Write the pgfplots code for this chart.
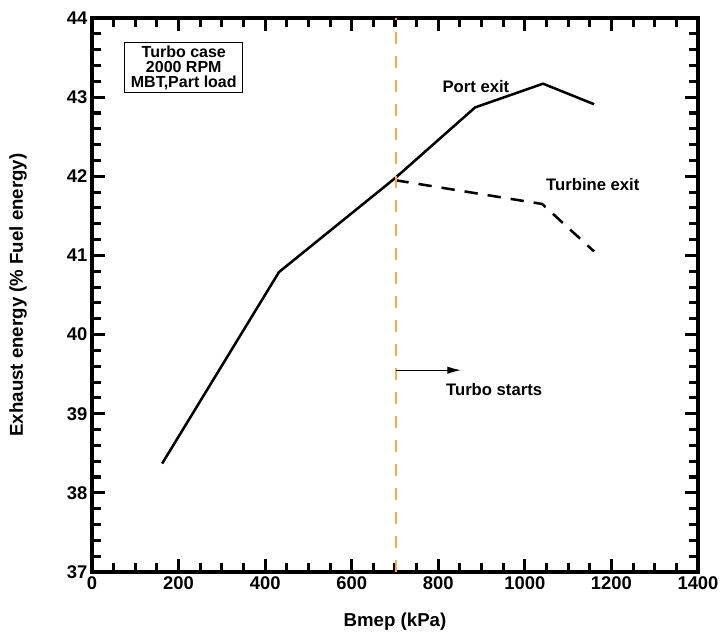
\documentclass[border=0pt]{standalone}
\usepackage{pgfplots}
\pgfplotsset{compat=1.18}
\usepackage{fontspec}
\setmainfont{Liberation Sans}
\usetikzlibrary{arrows.meta}
\definecolor{turbo}{RGB}{250,170,80}
\begin{document}
\begin{tikzpicture}
\useasboundingbox (-69pt,-47.25pt) rectangle (472.5pt,429pt);
\begin{axis}[
  scale only axis, width=454.5pt, height=415.5pt,
  at={(0,0)}, anchor=south west,
  xmin=0, xmax=1400, ymin=37, ymax=44,
  xtick={0,200,...,1400}, ytick={37,38,...,44},
  minor x tick num=3, minor y tick num=4,
  tick align=inside, tick pos=both,
  major tick length=10pt, minor tick length=7pt,
  every tick/.style={line width=2.3pt, black},
  axis line style={line width=2.6pt},
  /pgf/number format/assume math mode=true,
  /pgf/number format/1000 sep={},
  ticklabel style={font=\fontsize{13.8}{16}\selectfont\bfseries},
  label style={font=\fontsize{14}{16}\selectfont\bfseries},
  xlabel={Bmep (kPa)}, ylabel={Exhaust energy (\% Fuel energy)},
  xlabel style={at={(axis description cs:0.5,-0.09)}, anchor=center},
  ylabel style={at={(axis description cs:-0.122,0.5)}, anchor=center},
  clip=false,
]
\addplot[line width=1.9pt, black] coordinates {(162,38.37) (432,40.79) (701,41.98) (885,42.87) (1042,43.17) (1160,42.91)};
\addplot[line width=1.9pt, black, dash pattern=on 10pt off 7.5pt] coordinates {(701,41.95) (1040,41.65) (1160,41.05)};
\addplot[line width=1.2pt, turbo, dash pattern=on 9pt off 9pt] coordinates {(703,37) (703,44)};
\addplot[line width=0.7pt, black, -{Latex[length=10pt,width=5.5pt]}] coordinates {(703,39.55) (852,39.55)};
\node[font=\fontsize{12.5}{14}\selectfont\bfseries] at (axis cs:887,43.13) {Port exit};
\node[font=\fontsize{12.5}{14}\selectfont\bfseries] at (axis cs:1157,41.89) {Turbine exit};
\node[font=\fontsize{12.5}{14}\selectfont\bfseries] at (axis cs:929,39.31) {Turbo starts};
\node[draw, line width=0.6pt, align=center, inner xsep=4.5pt, inner ysep=2pt, font=\fontsize{12}{11.5}\selectfont\bfseries] at (axis cs:212,43.37) {Turbo case\\2000 RPM\\MBT,Part load};
\end{axis}
\end{tikzpicture}
\end{document}
